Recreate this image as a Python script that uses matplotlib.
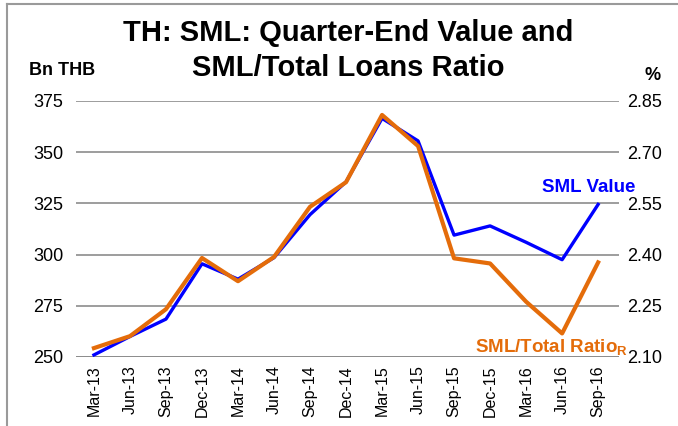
import matplotlib.pyplot as plt
from matplotlib.lines import Line2D

plt.rcParams['font.family'] = ['Liberation Sans', 'DejaVu Sans']

quarters = ['Mar-13', 'Jun-13', 'Sep-13', 'Dec-13', 'Mar-14', 'Jun-14', 'Sep-14', 'Dec-14',
            'Mar-15', 'Jun-15', 'Sep-15', 'Dec-15', 'Mar-16', 'Jun-16', 'Sep-16']
sml_value = [251, 260, 268.5, 295.5, 288, 298.5, 319.5, 335.5,
             366.5, 355.5, 309.5, 314, 306, 297.5, 324.5]
sml_ratio = [2.126, 2.161, 2.24, 2.39, 2.322, 2.393, 2.54, 2.612,
             2.809, 2.718, 2.389, 2.374, 2.262, 2.169, 2.377]

left_ticks = [250, 275, 300, 325, 350, 375]
right_ticks = [2.10, 2.25, 2.40, 2.55, 2.70, 2.85]

blue = '#0000FF'
orange = '#E46C0A'

fig = plt.figure(figsize=(6.78, 4.26), dpi=100)
ax = fig.add_axes([0.112, 0.162, 0.801, 0.601])
x = range(len(quarters))

for t in left_ticks[1:]:
    ax.axhline(t, color='#8c8c8c', linewidth=1.2, zorder=0)
ax.axhline(250, color='#808080', linewidth=2, zorder=0)

ax.plot(x, sml_value, color=blue, linewidth=2.4, zorder=2)
ax.set_ylim(250, 375)
ax.set_yticks(left_ticks)
ax.set_yticklabels([str(t) for t in left_ticks], fontsize=13)
ax.set_xlim(-0.5, 14.58)
ax.set_xticks(list(x))
ax.set_xticklabels(quarters, rotation=90, fontsize=11.5)
ax.tick_params(length=0, pad=6)
ax.tick_params(axis='y', pad=9)
for s in ax.spines.values():
    s.set_visible(False)

ax2 = ax.twinx()
ax2.plot(x, sml_ratio, color=orange, linewidth=3, zorder=3)
ax2.set_ylim(2.10, 2.85)
ax2.set_yticks(right_ticks)
ax2.set_yticklabels([f'{t:.2f}' for t in right_ticks], fontsize=13)
ax2.tick_params(length=0, pad=6)
for s in ax2.spines.values():
    s.set_visible(False)

fig.text(0.513, 0.922, 'TH: SML: Quarter-End Value and', ha='center', va='center',
         fontsize=21, fontweight='bold')
fig.text(0.513, 0.84, 'SML/Total Loans Ratio', ha='center', va='center',
         fontsize=21, fontweight='bold')
fig.text(0.043, 0.835, 'Bn THB', ha='left', va='center', fontsize=13, fontweight='bold')
fig.text(0.962, 0.823, '%', ha='center', va='center', fontsize=13, fontweight='bold')

fig.text(0.8, 0.561, 'SML Value', ha='left', va='center', fontsize=13.5,
         fontweight='bold', color=blue)
fig.text(0.7, 0.183, r'SML/Total Ratio$_{\mathregular{R}}$', ha='left', va='center',
         fontsize=13.5, fontweight='bold', color=orange)

# outer frame (top and left edges visible)
fig.add_artist(Line2D([7 / 678, 7 / 678], [0, 1 - 4 / 426], transform=fig.transFigure,
                      color='#9a9a9a', linewidth=1.5))
fig.add_artist(Line2D([7 / 678, 1], [1 - 4 / 426, 1 - 4 / 426], transform=fig.transFigure,
                      color='#9a9a9a', linewidth=1.5))

fig.savefig('out.png', dpi=100)
